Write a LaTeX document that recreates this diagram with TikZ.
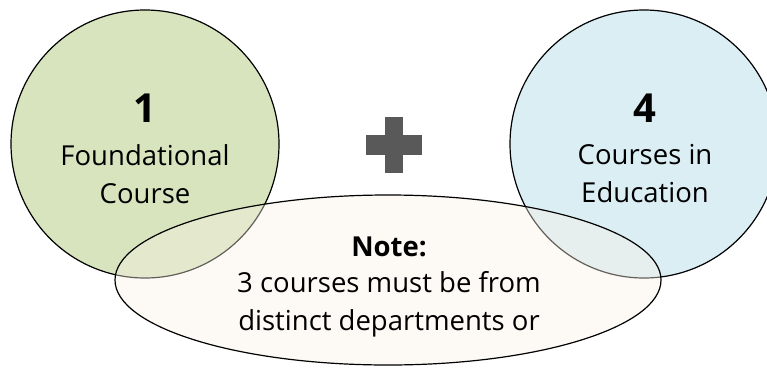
\documentclass[tikz,border=0pt]{standalone}
\usepackage{fontspec}
\setmainfont{Open Sans}
\usetikzlibrary{shapes.geometric}
\definecolor{greenfill}{HTML}{D7E4BD}
\definecolor{bluefill}{HTML}{DBEEF4}
\definecolor{beigefill}{HTML}{F9F0E6}
\definecolor{plusgray}{HTML}{595959}
\tikzset{
  bigcircle/.style={circle, draw=black, line width=1.2pt, minimum size=268pt, inner sep=0pt},
  noteellipse/.style={ellipse, minimum width=546pt, minimum height=170pt, inner sep=0pt},
  num/.style={font=\fontsize{40}{44}\selectfont\bfseries, inner sep=0pt},
  body/.style={font=\fontsize{27.5}{38}\selectfont, align=center, inner sep=0pt},
}
\begin{document}
\begin{tikzpicture}[x=1pt, y=-1pt]
\useasboundingbox (0,0) rectangle (767,367);
\clip (0,0) rectangle (767,367);
\node[bigcircle, fill=greenfill] (left) at (145,144) {};
\node[bigcircle, fill=bluefill] (right) at (644,144) {};
\node[noteellipse, fill=beigefill, fill opacity=0.4] (note) at (388,280) {};
\node[noteellipse, draw=black, line width=1.2pt] (noteline) at (388,280) {};
\fill[plusgray] (366,135) rectangle (422,155);
\fill[plusgray] (385,117) rectangle (403,173);
\node[num] (one) at (145,108) {1};
\node[body] (foundtext) at (145,174) {Foundational\\Course};
\node[num] (four) at (645,108) {4};
\node[body] (edutext) at (645,174) {Courses in\\Education};
\node[body, font=\fontsize{27.5}{38}\selectfont\bfseries] (notehead) at (389,247) {Note:};
\node[body] (notetext) at (389,304) {3 courses must be from\\distinct departments or};
\end{tikzpicture}
\end{document}
